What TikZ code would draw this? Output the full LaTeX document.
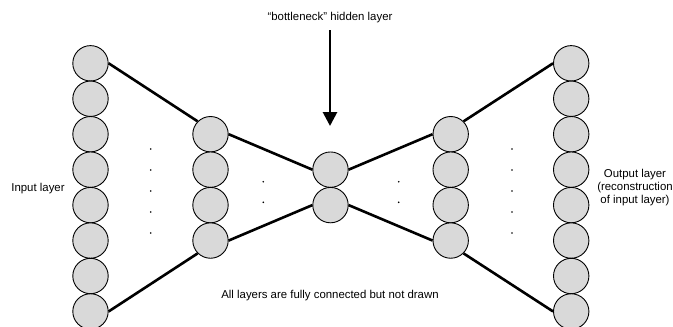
\documentclass[tikz,border=0pt]{standalone}
\usepackage{fontspec}
\setmainfont{Liberation Sans}
\usetikzlibrary{arrows.meta}
\definecolor{nodefill}{HTML}{D9D9D9}
\tikzset{
  neuron/.style={circle, draw=black, line width=0.9pt, fill=nodefill, minimum size=35.4pt, inner sep=0pt},
  conn/.style={line width=2.6pt, draw=black},
  dotmark/.style={circle, fill=black, inner sep=0pt, minimum size=1.8pt},
  lbl/.style={font=\fontsize{11.4pt}{13pt}\selectfont, inner sep=0pt, align=center}
}
\begin{document}
\begin{tikzpicture}[x=1pt,y=-1pt]
\useasboundingbox (0,0) rectangle (673,327);
% input layer
\foreach \k in {1,...,8} {
  \node[neuron] (i\k) at (90.5, {63.3+35.45*(\k-1)}) {};
}
% output layer
\foreach \k in {1,...,8} {
  \node[neuron] (o\k) at (571.2, {63.3+35.45*(\k-1)}) {};
}
% hidden layers
\foreach \k in {1,...,4} {
  \node[neuron] (h\k) at (210.5, {134.2+35.45*(\k-1)}) {};
  \node[neuron] (g\k) at (450.7, {134.2+35.45*(\k-1)}) {};
}
\node[neuron] (b1) at (330.5, 169.65) {};
\node[neuron] (b2) at (330.5, 205.1) {};
% connectors
\draw[conn] (i1.east) -- (h1.north west);
\draw[conn] (i8.east) -- (h4.south west);
\draw[conn] (h1.east) -- (b1.west);
\draw[conn] (h4.east) -- (b2.west);
\draw[conn] (b1.east) -- (g1.west);
\draw[conn] (b2.east) -- (g4.west);
\draw[conn] (g1.north east) -- (o1.west);
\draw[conn] (g4.south east) -- (o8.west);
% dots
\foreach \y [count=\n] in {149,170,191,212,233} {
  \node[dotmark] (dl\n) at (150.7,\y) {};
  \node[dotmark] (dr\n) at (512,\y) {};
}
\foreach \y [count=\n] in {181.7,202.3} {
  \node[dotmark] (ml\n) at (263.3,\y) {};
  \node[dotmark] (mr\n) at (398.7,\y) {};
}
% arrow and labels
\node[lbl] (bottle) at (330,18) {“bottleneck” hidden layer};
\coordinate (arrtop) at (330,30);
\coordinate (arrtip) at (330,126);
\draw[line width=2.8pt, -{Triangle[width=14pt,length=14pt]}] (arrtop) -- (arrtip);
\node[lbl] (inlbl) at (38,188.3) {Input layer};
\node[lbl] (outlbl) at (635,188) {Output layer\\(reconstruction\\of input layer)};
\node[lbl] (note) at (330,295.7) {All layers are fully connected but not drawn};
\end{tikzpicture}
\end{document}
